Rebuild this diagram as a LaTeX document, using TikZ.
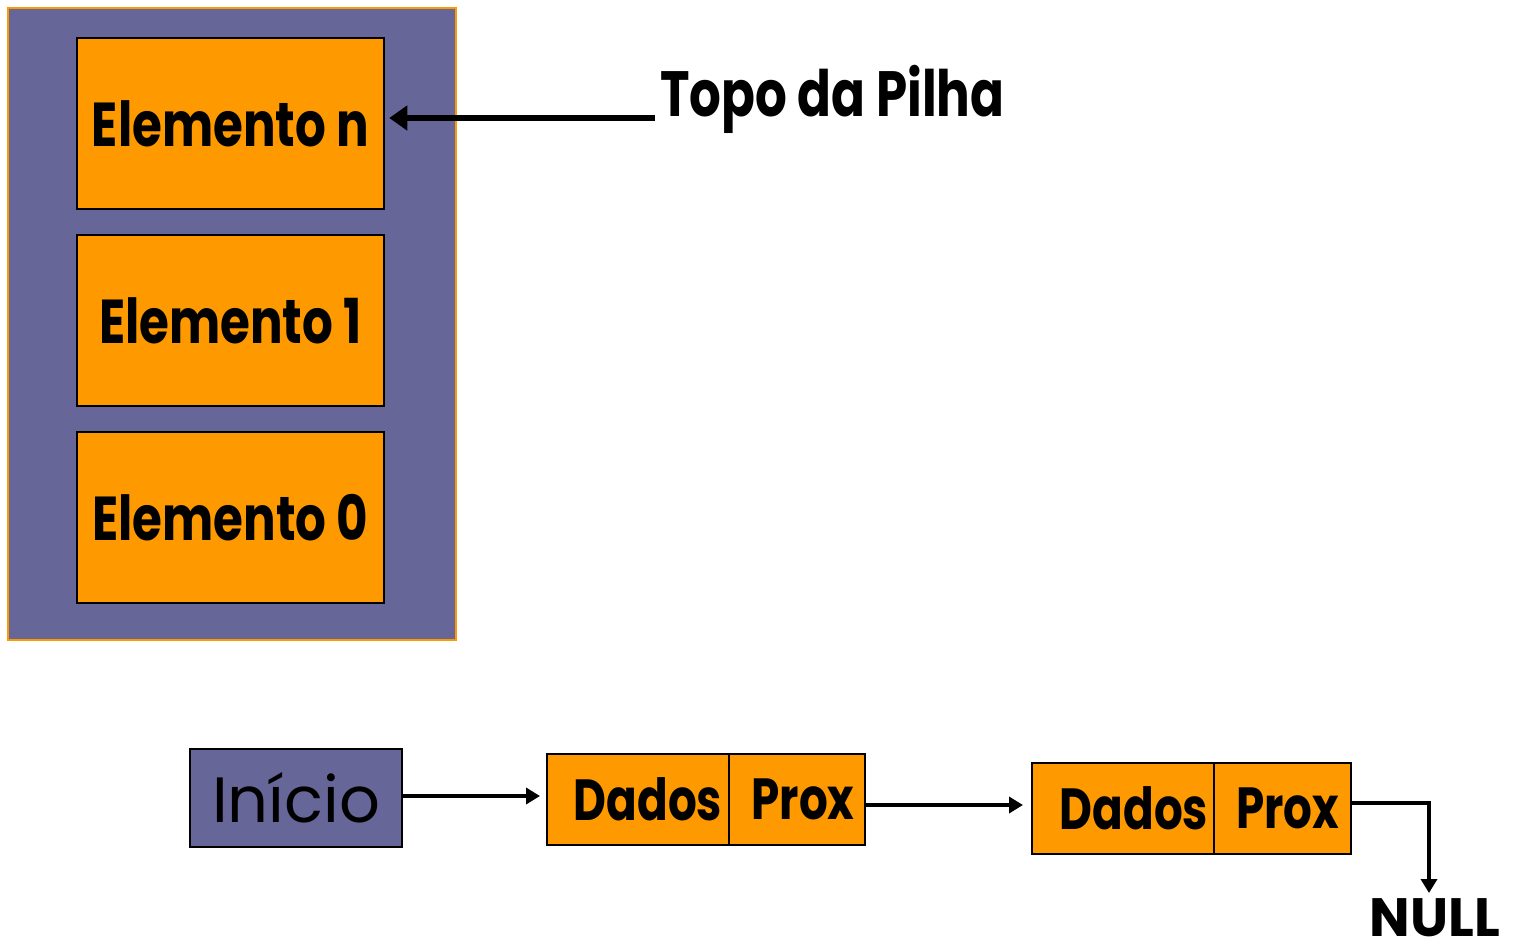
\documentclass[tikz,border=0pt]{standalone}
\usepackage{fontspec}
\setmainfont{Poppins}[FakeStretch=0.78]
\newfontfamily\plainfam{Poppins}
\usetikzlibrary{arrows.meta,calc}
\definecolor{stackpurple}{HTML}{666699}
\definecolor{stackorange}{HTML}{FF9900}
\begin{document}
\begin{tikzpicture}[x=1pt,y=-1pt,
  elembox/.style={draw=black,line width=2.5pt,fill=stackorange,inner sep=0pt,minimum width=307pt,minimum height=171pt,font=\fontsize{62}{66}\selectfont\bfseries},
  cellbox/.style={draw=black,line width=2pt,fill=stackorange,inner sep=0pt,minimum height=91pt,font=\fontsize{58}{62}\selectfont\bfseries},
  bigarrow/.style={line width=6pt,-{Triangle[length=18pt,width=24pt]}},
  smallarrow/.style={line width=3.5pt,-{Triangle[length=14pt,width=16pt]}}
]
\useasboundingbox (0,0) rectangle (1513,948);
\node[draw=stackorange,line width=2pt,fill=stackpurple,minimum width=448pt,minimum height=632pt,inner sep=0pt] (stack) at (232,324) {};
\node[elembox] (en) at (230.5,123.5) {Elemento n};
\node[elembox] (e1) at (230.5,320.5) {Elemento 1};
\node[elembox] (e0) at (230.5,517.5) {Elemento 0};
\node[anchor=base west,inner sep=0pt,font=\fontsize{64}{68}\selectfont\bfseries] (topo) at (660,116) {Topo da Pilha};
\coordinate (tstart) at (655,118);
\draw[bigarrow] (tstart) -- ([xshift=4pt]tstart -| en.east);

\node[draw=black,line width=2.5pt,fill=stackpurple,minimum width=212pt,minimum height=98pt,inner sep=0pt,font=\plainfam\fontsize{64}{68}\selectfont] (ini) at (296,798) {Início};
\node[cellbox,minimum width=182pt] (d1) at (638,799.5) {\hspace*{20pt}Dados};
\node[cellbox,minimum width=136pt] (p1) at (797,799.5) {\hspace*{12pt}Prox};
\node[cellbox,minimum width=182pt] (d2) at (1123,808) {\hspace*{22pt}Dados};
\node[cellbox,minimum width=137pt] (p2) at (1282.5,808) {\hspace*{10pt}Prox};
\node[anchor=base,font=\plainfam\bfseries\fontsize{54}{58}\selectfont,inner sep=0pt] (null) at (1435,936) {NULL};

\draw[smallarrow,shorten >=6pt] ([yshift=2pt]ini.east) -- ([yshift=2pt]ini.east -| d1.west);
\draw[smallarrow,shorten >=8pt] ([yshift=-5.5pt]p1.east) -- ([yshift=-5.5pt]p1.east -| d2.west);
\coordinate (nullin) at (1429,893);
\draw[smallarrow] ([yshift=5pt]p2.east) -| (nullin);
\end{tikzpicture}
\end{document}
